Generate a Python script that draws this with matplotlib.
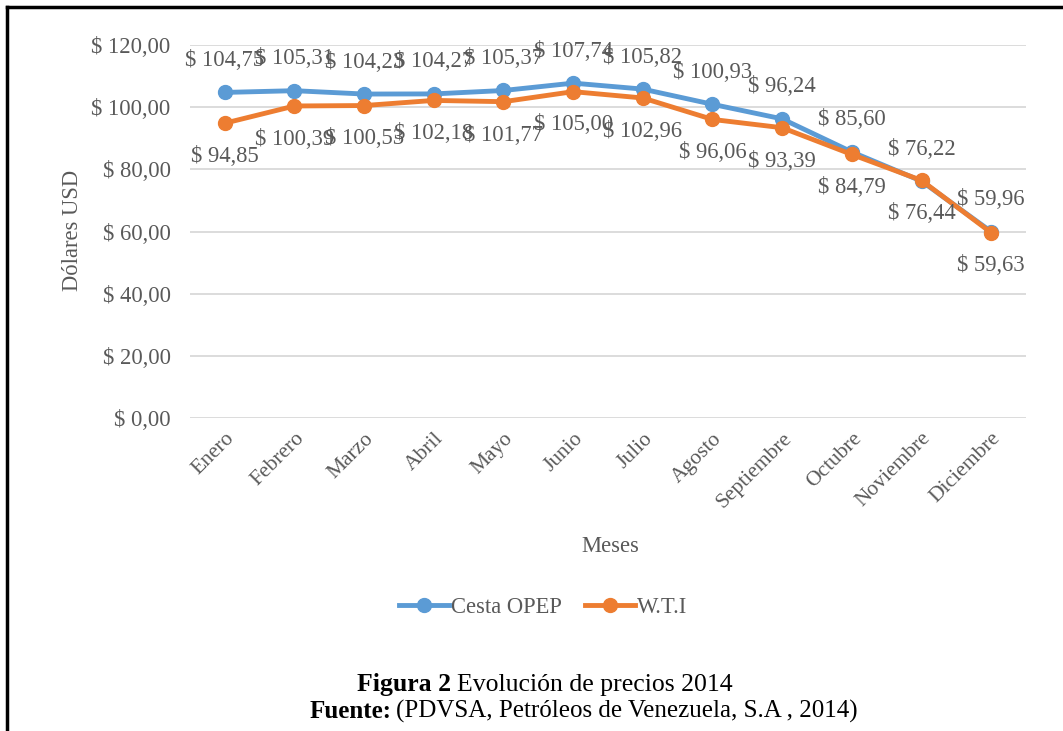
import matplotlib.pyplot as plt
from matplotlib.lines import Line2D

plt.rcParams['font.family'] = ['Liberation Serif', 'DejaVu Serif']

meses = ["Enero", "Febrero", "Marzo", "Abril", "Mayo", "Junio", "Julio",
         "Agosto", "Septiembre", "Octubre", "Noviembre", "Diciembre"]
cesta_opep = [104.75, 105.31, 104.23, 104.27, 105.37, 107.74, 105.82,
              100.93, 96.24, 85.60, 76.22, 59.96]
wti = [94.85, 100.39, 100.53, 102.18, 101.77, 105.00, 102.96,
       96.06, 93.39, 84.79, 76.44, 59.63]
y_ticks = [0, 20, 40, 60, 80, 100, 120]

AZUL = "#5B9BD5"
NARANJA = "#ED7D31"
GRIS = "#595959"


def fmt(v):
    return "$ " + f"{v:.2f}".replace(".", ",")


fig = plt.figure(figsize=(10.63, 7.31), dpi=100)
ax = fig.add_axes([0.1787, 0.4282, 0.7865, 0.5102])

x = list(range(len(meses)))
ax.plot(x, cesta_opep, color=AZUL, lw=3.5, marker="o", ms=10, zorder=3)
ax.plot(x, wti, color=NARANJA, lw=3.5, marker="o", ms=10, zorder=4)

# etiquetas de datos: OPEP arriba, WTI abajo
for xi, v in zip(x, cesta_opep):
    ax.annotate(fmt(v), (xi, v), xytext=(0, 23), textcoords="offset points",
                ha="center", va="center", fontsize=16.3, color=GRIS, zorder=5)
for xi, v in zip(x, wti):
    ax.annotate(fmt(v), (xi, v), xytext=(0, -24), textcoords="offset points",
                ha="center", va="center", fontsize=16.3, color=GRIS, zorder=5)

ax.set_xlim(-0.5, len(meses) - 0.5)
ax.set_ylim(0, 120)
ax.set_yticks(y_ticks)
ax.set_yticklabels([fmt(v) for v in y_ticks], fontsize=16.3, color=GRIS)
ax.set_xticks(x)
ax.set_xticklabels(meses, rotation=45, ha="right", rotation_mode="anchor",
                   fontsize=15.5, color=GRIS)
ax.tick_params(length=0, pad=14)
ax.tick_params(axis="x", pad=8)
ax.grid(axis="y", color="#D9D9D9", lw=1.3)
ax.set_axisbelow(True)
for s in ax.spines.values():
    s.set_visible(False)

fig.text(0.068, 0.685, "Dólares USD", rotation=90, ha="center", va="center",
         fontsize=16.3, color=GRIS)
fig.text(0.574, 0.253, "Meses", ha="center", va="center", fontsize=16.3, color=GRIS)

handles = [Line2D([], [], color=AZUL, lw=3.5, marker="o", ms=10),
           Line2D([], [], color=NARANJA, lw=3.5, marker="o", ms=10)]
fig.legend(handles, ["Cesta OPEP", "W.T.I"], loc="center",
           bbox_to_anchor=(0.511, 0.169), ncol=2, frameon=False, fontsize=16.3,
           labelcolor=GRIS, handlelength=2.2, handletextpad=0.1, columnspacing=1.0)

# pie de figura
fig.text(0.336, 0.063, "Figura 2", ha="left", va="center", fontsize=18.5,
         fontweight="bold", color="black")
fig.text(0.430, 0.063, "Evolución de precios 2014", ha="left", va="center",
         fontsize=18.5, color="black")
fig.text(0.291, 0.027, "Fuente:", ha="left", va="center", fontsize=18,
         fontweight="bold", color="black")
fig.text(0.373, 0.027, "(PDVSA, Petróleos de Venezuela, S.A , 2014)", ha="left",
         va="center", fontsize=18, color="black")

# marco del documento
fig.add_artist(Line2D([0.0066, 0.0066], [0, 0.9904], color="black", lw=2.5,
                      transform=fig.transFigure))
fig.add_artist(Line2D([0.0066, 1], [0.9904, 0.9904], color="black", lw=2.5,
                      transform=fig.transFigure))

fig.savefig("out.png", dpi=100, facecolor="white")
